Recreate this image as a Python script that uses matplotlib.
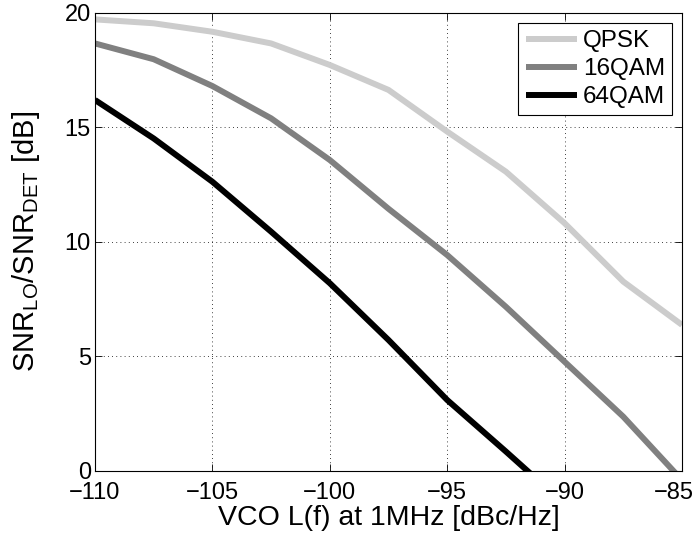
import matplotlib
matplotlib.use("Agg")
import matplotlib.pyplot as plt
import matplotlib.transforms as mtransforms
import numpy as np

# VCO phase noise sweep (dBc/Hz at 1 MHz offset)
vco_noise = [-110, -107.5, -105, -102.5, -100, -97.5, -95, -92.5, -90, -87.5, -85]

# required SNR_LO / SNR_DET per modulation [dB]
snr_qpsk = [19.72, 19.55, 19.18, 18.67, 17.73, 16.64, 14.82, 13.07, 10.82, 8.27, 6.38]
snr_16qam = [18.67, 17.98, 16.81, 15.40, 13.58, 11.45, 9.43, 7.17, 4.77, 2.37, -0.4]
snr_64qam = [16.20, 14.52, 12.63, 10.45, 8.20, 5.72, 3.10, 0.85, -1.45]

labels = ["QPSK", "16QAM", "64QAM"]
colors = ["#cccccc", "#808080", "#000000"]

plt.rcParams["font.family"] = ["Liberation Sans", "DejaVu Sans"]
plt.rcParams["font.size"] = 17

fig = plt.figure(figsize=(6.95, 5.41), dpi=100)
ax = fig.add_axes([0.1367, 0.1294, 0.8446, 0.8466])

series = [snr_qpsk, snr_16qam, snr_64qam]
for ys, lab, col in zip(series, labels, colors):
    ax.plot(vco_noise[:len(ys)], ys, color=col, linewidth=4.3, label=lab,
            solid_joinstyle="miter", solid_capstyle="butt")

ax.set_xlim(-110, -85)
ax.set_ylim(0, 20)
ax.set_xticks(np.arange(-110, -84, 5))
ax.set_yticks(np.arange(0, 21, 5))
ax.set_xticklabels([f"\u2212{abs(v)}" for v in range(-110, -84, 5)])

ax.grid(True, color="black", linestyle=(0, (1, 4)), linewidth=0.6)
ax.tick_params(direction="in", top=True, right=True, length=5, width=0.6,
               labelsize=17)
ax.tick_params(axis="x", pad=8)
ax.tick_params(axis="y", pad=3)
for sp in ax.spines.values():
    sp.set_linewidth(0.8)

# keep the last tick label inside the figure
last = ax.get_xticklabels()[-1]
last.set_transform(last.get_transform() +
                   mtransforms.ScaledTranslation(-8 / 100, 0, fig.dpi_scale_trans))

ax.set_xlabel("VCO L(f) at 1MHz [dBc/Hz]", fontsize=20.5, labelpad=1)
ax.set_ylabel(r"SNR$_{\mathregular{LO}}$/SNR$_{\mathregular{DET}}$ [dB]",
              fontsize=21, labelpad=16)

leg = ax.legend(loc="upper right", fontsize=17.5, handlelength=2.1,
                handletextpad=0.25, borderaxespad=0.4, fancybox=False,
                framealpha=1, edgecolor="black", labelspacing=0.25,
                borderpad=0.3)
leg.get_frame().set_linewidth(0.8)

fig.savefig("out.png", dpi=100)
